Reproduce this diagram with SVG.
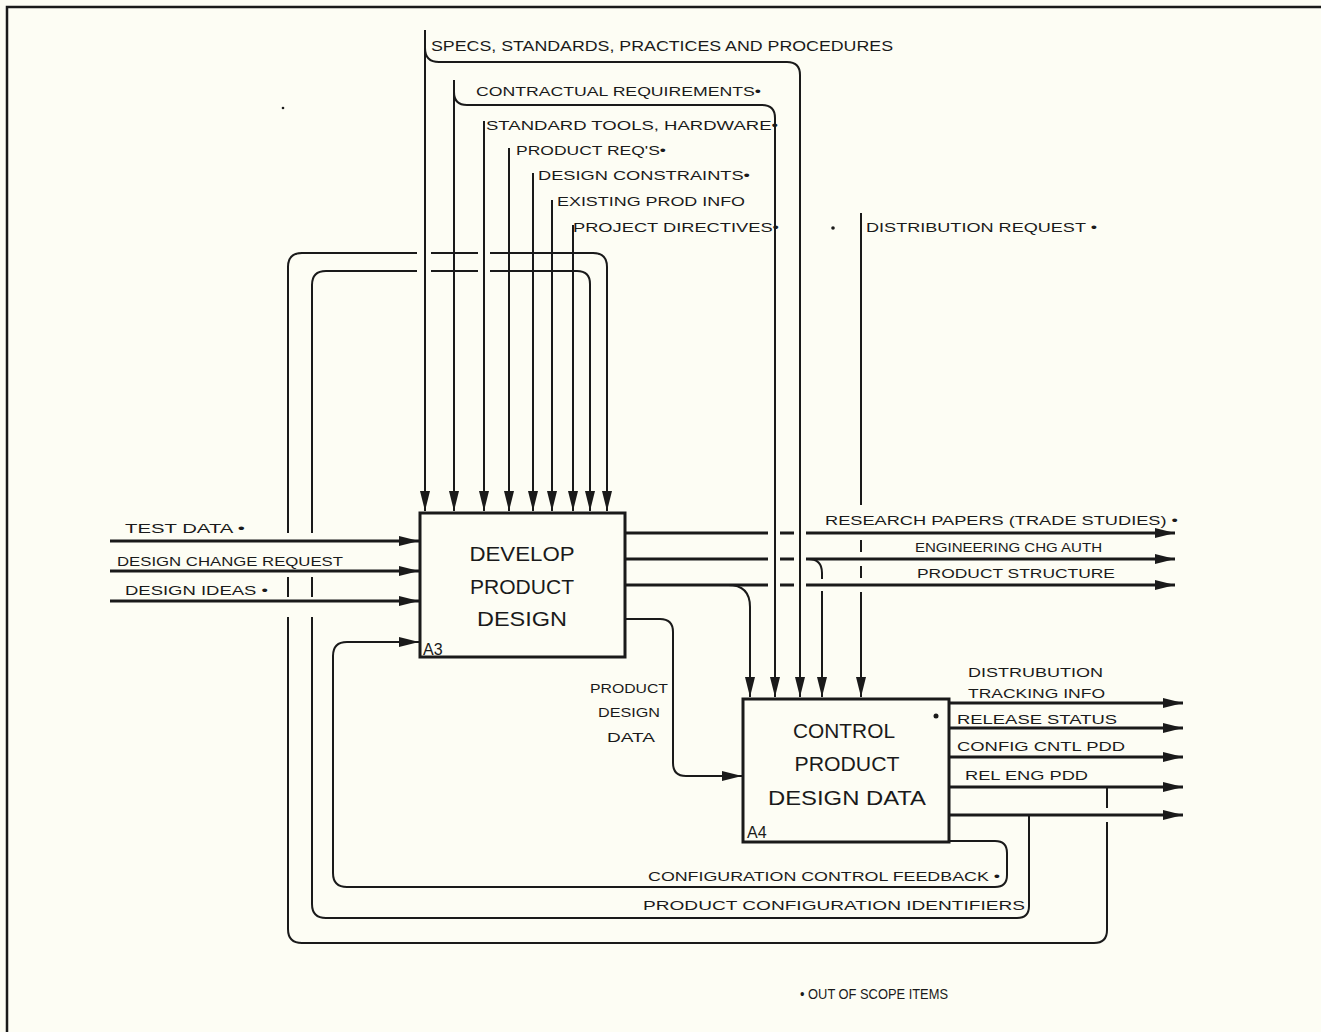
<svg xmlns="http://www.w3.org/2000/svg" width="1321" height="1032" viewBox="0 0 1321 1032">
<style>
.bg{fill:#fdfdf4}
.ln{fill:none;stroke:#1a1a1a;stroke-width:2;stroke-linecap:butt}
.th{fill:none;stroke:#1a1a1a;stroke-width:3}
.box{fill:#fdfdf4;stroke:#1a1a1a;stroke-width:3}
.lbl{font-family:"Liberation Sans",Arial,sans-serif;font-size:13.5px;fill:#1a1a1a}
.big{font-family:"Liberation Sans",Arial,sans-serif;font-size:21px;fill:#1a1a1a}
.id{font-family:"Liberation Sans",Arial,sans-serif;font-size:16px;fill:#1a1a1a}
</style>
<defs>
<marker id="arr" markerUnits="userSpaceOnUse" markerWidth="22" markerHeight="11" refX="20" refY="5" orient="auto">
<path d="M0,0 L20,5 L0,10 z" fill="#1a1a1a"/>
</marker>
</defs>
<rect class="bg" x="0" y="0" width="1321" height="1032"/>
<path d="M7,1032 V7 H1321" fill="none" stroke="#1a1a1a" stroke-width="2.5"/>
<circle cx="283" cy="108" r="1.3" fill="#1a1a1a"/>
<circle cx="833" cy="228" r="1.8" fill="#1a1a1a"/>

<g id="connectors">
<!-- inputs to A3 -->
<path class="th" d="M110,541 H419" marker-end="url(#arr)"/>
<path class="th" d="M110,571 H419" marker-end="url(#arr)"/>
<path class="th" d="M110,601 H419" marker-end="url(#arr)"/>
<!-- controls -->
<path class="ln" d="M425,30 V511" marker-end="url(#arr)"/>
<path class="ln" d="M425,48 Q425,62 439,62 H787 Q800,62 800,75 V697" marker-end="url(#arr)"/>
<path class="ln" d="M454,80 V511" marker-end="url(#arr)"/>
<path class="ln" d="M454,92 Q454,105 467,105 H762 Q775,105 775,118 V697" marker-end="url(#arr)"/>
<path class="ln" d="M484,121 V511" marker-end="url(#arr)"/>
<path class="ln" d="M509,148 V511" marker-end="url(#arr)"/>
<path class="ln" d="M533,173 V511" marker-end="url(#arr)"/>
<path class="ln" d="M552,200 V511" marker-end="url(#arr)"/>
<path class="ln" d="M573,225 V511" marker-end="url(#arr)"/>
<!-- distribution request -->
<path class="ln" d="M861,213 V505"/>
<path class="ln" d="M861,540 V552"/>
<path class="ln" d="M861,566 V578"/>
<path class="ln" d="M861,592 V697" marker-end="url(#arr)"/>
<!-- A3 outputs -->
<path class="th" d="M625,533 H768 M780,533 H794"/>
<path class="th" d="M806,533 H1175" marker-end="url(#arr)"/>
<path class="th" d="M625,559 H768 M780,559 H794"/>
<path class="th" d="M806,559 H1175" marker-end="url(#arr)"/>
<path class="ln" d="M808,559 Q822,559 822,573 V579"/>
<path class="ln" d="M822,591 V697" marker-end="url(#arr)"/>
<path class="th" d="M625,585 H768 M780,585 H794"/>
<path class="th" d="M806,585 H1175" marker-end="url(#arr)"/>
<path class="ln" d="M728,585 Q750,585 750,607 V697" marker-end="url(#arr)"/>
<!-- product design data -->
<path class="ln" d="M625,619 H660 Q673,619 673,632 V763 Q673,776 686,776 H742" marker-end="url(#arr)"/>
<!-- A4 outputs -->
<path class="th" d="M949,703 H1183" marker-end="url(#arr)"/>
<path class="th" d="M949,728 H1183" marker-end="url(#arr)"/>
<path class="th" d="M949,757 H1183" marker-end="url(#arr)"/>
<path class="th" d="M949,787 H1183" marker-end="url(#arr)"/>
<path class="th" d="M949,815 H1183" marker-end="url(#arr)"/>
<!-- inner loop: configuration control feedback -->
<path class="ln" d="M949,841 H995 Q1007,841 1007,853 V875 Q1007,887 995,887 H347 Q333,887 333,873 V656 Q333,642 347,642 H419" marker-end="url(#arr)"/>
<!-- middle loop: product configuration identifiers -->
<path class="ln" d="M1029,815 V906 Q1029,918 1017,918 H326 Q312,918 312,904 V617 M312,597 V577 M312,533 V285 Q312,271 326,271 H417 M431,271 H478"/>
<path class="ln" d="M490,271 H577 Q590,271 590,284 V511" marker-end="url(#arr)"/>
<!-- outer loop -->
<path class="ln" d="M1107,787 V808 M1107,822 V930 Q1107,943 1094,943 H302 Q288,943 288,929 V617 M288,597 V577 M288,533 V267 Q288,253 302,253 H417 M431,253 H478"/>
<path class="ln" d="M490,253 H593 Q607,253 607,267 V511" marker-end="url(#arr)"/>
</g>

<g id="A3">
<rect class="box" x="420" y="513" width="205" height="144"/>
<text class="big" x="522" y="561" text-anchor="middle" textLength="105" lengthAdjust="spacingAndGlyphs">DEVELOP</text>
<text class="big" x="522" y="594" text-anchor="middle" textLength="104" lengthAdjust="spacingAndGlyphs">PRODUCT</text>
<text class="big" x="522" y="626" text-anchor="middle" textLength="90" lengthAdjust="spacingAndGlyphs">DESIGN</text>
<text class="id" x="423" y="655">A3</text>
</g>

<g id="A4">
<rect class="box" x="743" y="699" width="206" height="143"/>
<text class="big" x="844" y="738" text-anchor="middle" textLength="102" lengthAdjust="spacingAndGlyphs">CONTROL</text>
<circle cx="936" cy="716" r="2.5" fill="#1a1a1a"/>
<text class="big" x="847" y="771" text-anchor="middle" textLength="105" lengthAdjust="spacingAndGlyphs">PRODUCT</text>
<text class="big" x="847" y="805" text-anchor="middle" textLength="158" lengthAdjust="spacingAndGlyphs">DESIGN DATA</text>
<text class="id" x="747" y="838">A4</text>
</g>

<g id="labels">
<text class="lbl" x="125" y="533" textLength="120" lengthAdjust="spacingAndGlyphs">TEST DATA •</text>
<text class="lbl" x="117" y="566" textLength="226" lengthAdjust="spacingAndGlyphs">DESIGN CHANGE REQUEST</text>
<text class="lbl" x="125" y="595" textLength="143" lengthAdjust="spacingAndGlyphs">DESIGN IDEAS •</text>
<text class="lbl" x="431" y="51" style="font-size:15px" textLength="462" lengthAdjust="spacingAndGlyphs">SPECS, STANDARDS, PRACTICES AND PROCEDURES</text>
<text class="lbl" x="476" y="96" textLength="285" lengthAdjust="spacingAndGlyphs">CONTRACTUAL REQUIREMENTS•</text>
<text class="lbl" x="486" y="130" textLength="292" lengthAdjust="spacingAndGlyphs">STANDARD TOOLS, HARDWARE•</text>
<text class="lbl" x="516" y="155" textLength="150" lengthAdjust="spacingAndGlyphs">PRODUCT REQ'S•</text>
<text class="lbl" x="538" y="180" textLength="212" lengthAdjust="spacingAndGlyphs">DESIGN CONSTRAINTS•</text>
<text class="lbl" x="557" y="206" textLength="188" lengthAdjust="spacingAndGlyphs">EXISTING PROD INFO</text>
<text class="lbl" x="573" y="232" textLength="206" lengthAdjust="spacingAndGlyphs">PROJECT DIRECTIVES•</text>
<text class="lbl" x="866" y="232" textLength="231" lengthAdjust="spacingAndGlyphs">DISTRIBUTION REQUEST •</text>
<text class="lbl" x="825" y="525" textLength="353" lengthAdjust="spacingAndGlyphs">RESEARCH PAPERS (TRADE STUDIES) •</text>
<text class="lbl" x="915" y="552" textLength="187" lengthAdjust="spacingAndGlyphs">ENGINEERING CHG AUTH</text>
<text class="lbl" x="917" y="578" textLength="198" lengthAdjust="spacingAndGlyphs">PRODUCT STRUCTURE</text>
<text class="lbl" x="629" y="693" text-anchor="middle" textLength="78" lengthAdjust="spacingAndGlyphs">PRODUCT</text>
<text class="lbl" x="629" y="717" text-anchor="middle" textLength="62" lengthAdjust="spacingAndGlyphs">DESIGN</text>
<text class="lbl" x="631" y="742" text-anchor="middle" textLength="48" lengthAdjust="spacingAndGlyphs">DATA</text>
<text class="lbl" x="968" y="677" textLength="135" lengthAdjust="spacingAndGlyphs">DISTRUBUTION</text>
<text class="lbl" x="968" y="698" textLength="137" lengthAdjust="spacingAndGlyphs">TRACKING INFO</text>
<text class="lbl" x="957" y="724" textLength="160" lengthAdjust="spacingAndGlyphs">RELEASE STATUS</text>
<text class="lbl" x="957" y="751" textLength="168" lengthAdjust="spacingAndGlyphs">CONFIG CNTL PDD</text>
<text class="lbl" x="965" y="780" textLength="123" lengthAdjust="spacingAndGlyphs">REL ENG PDD</text>
<text class="lbl" x="648" y="881" textLength="352" lengthAdjust="spacingAndGlyphs">CONFIGURATION CONTROL FEEDBACK •</text>
<text class="lbl" x="643" y="910" textLength="382" lengthAdjust="spacingAndGlyphs">PRODUCT CONFIGURATION IDENTIFIERS</text>
<text class="lbl" x="800" y="999" style="font-size:15.5px" textLength="148" lengthAdjust="spacingAndGlyphs">• OUT OF SCOPE ITEMS</text>
</g>
</svg>
